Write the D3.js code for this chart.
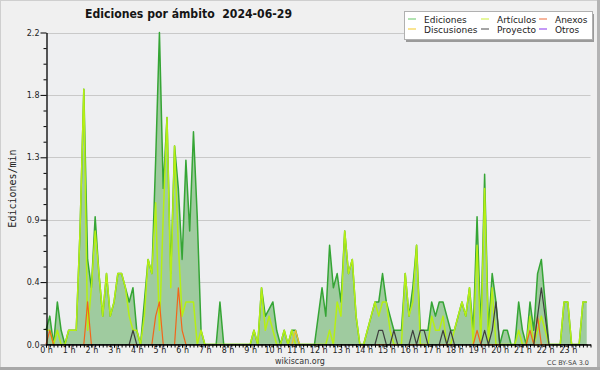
<!DOCTYPE html>
<html>
<head>
<meta charset="utf-8">
<script src="https://cdn.jsdelivr.net/npm/d3@7"></script>
<style>
  html, body { margin: 0; padding: 0; background: #f0f0f0; }
  svg { display: block; }
  text { font-family: "DejaVu Sans", sans-serif; }
</style>
</head>
<body>
<div id="chart"></div>
<script>
// --- Data: edits per minute, one value per 10 minutes (144 values, 00:00 -> 23:50) ---
const stepMinutes = 10;

const ediciones = [
  0.1, 0.2, 0, 0.3, 0.1, 0, 0.1, 0.1, 0.1, 0.8, 1.8, 0.6,
  0.4, 0.9, 0.5, 0.2, 0.5, 0.2, 0.3, 0.5, 0.5, 0.4, 0.3, 0.4,
  0.1, 0, 0.3, 0.6, 0.5, 1.3, 2.2, 1.1, 1.6, 0.5, 1.4, 1.1,
  0.6, 1.3, 0.8, 1.5, 0.9, 0.1, 0, 0, 0, 0, 0.3, 0,
  0, 0, 0, 0, 0, 0, 0, 0.1, 0, 0.4, 0.2, 0.25,
  0.3, 0.1, 0, 0.1, 0, 0.1, 0.1, 0, 0, 0, 0, 0,
  0.2, 0.4, 0.2, 0.7, 0.4, 0.5, 0.3, 0.8, 0.5, 0.6, 0.2, 0,
  0, 0.1, 0.2, 0.3, 0.3, 0.5, 0.3, 0.2, 0.1, 0.1, 0.1, 0.5,
  0.2, 0.4, 0.7, 0.1, 0.1, 0.1, 0.3, 0.2, 0.3, 0.3, 0.2, 0.1,
  0.1, 0.2, 0.3, 0.2, 0.4, 0.1, 0.9, 0.1, 1.2, 0.1, 0.5, 0.3,
  0, 0.1, 0.1, 0, 0, 0.3, 0.1, 0, 0.3, 0.1, 0.5, 0.6,
  0.3, 0, 0, 0, 0, 0.3, 0.3, 0, 0, 0, 0.3, 0.3
];

const articulos = [
  0.1, 0.1, 0, 0.1, 0, 0, 0.1, 0.1, 0.1, 0.8, 1.8, 0.1,
  0.4, 0.8, 0.5, 0.2, 0.5, 0.2, 0.3, 0.5, 0.5, 0.4, 0.2, 0.1,
  0.1, 0, 0.2, 0.6, 0.5, 1.0, 0.1, 0.9, 1.6, 0.4, 1.4, 0.7,
  0.2, 0.3, 0.3, 0.3, 0, 0.1, 0, 0, 0, 0, 0, 0,
  0, 0, 0, 0, 0, 0, 0, 0.1, 0, 0.4, 0.1, 0.2,
  0.1, 0, 0, 0.1, 0, 0.1, 0, 0, 0, 0, 0, 0,
  0, 0, 0, 0.1, 0, 0.3, 0.2, 0.8, 0.5, 0.6, 0.2, 0,
  0, 0.1, 0.2, 0.3, 0.2, 0.3, 0.3, 0.1, 0, 0, 0, 0.5,
  0.2, 0.3, 0.7, 0, 0, 0, 0.2, 0.1, 0.1, 0.2, 0, 0,
  0.1, 0.2, 0.3, 0.2, 0.4, 0, 0.7, 0, 1.1, 0, 0.4, 0,
  0, 0, 0, 0, 0, 0.1, 0, 0, 0.2, 0, 0.1, 0.2,
  0.1, 0, 0, 0, 0, 0.3, 0.3, 0, 0, 0, 0.3, 0.3
];

const anexos = [
  0, 0.1, 0, 0, 0, 0, 0, 0, 0, 0, 0, 0.3,
  0, 0, 0, 0, 0, 0, 0, 0, 0, 0, 0, 0,
  0, 0, 0, 0, 0, 0.2, 0.3, 0, 0, 0, 0, 0.4,
  0.1, 0, 0, 0, 0, 0, 0, 0, 0, 0, 0, 0,
  0, 0, 0, 0, 0, 0, 0, 0, 0, 0, 0, 0,
  0, 0, 0, 0, 0, 0, 0, 0, 0, 0, 0, 0,
  0, 0, 0, 0, 0, 0, 0, 0, 0, 0, 0, 0,
  0, 0, 0, 0, 0, 0, 0, 0, 0, 0, 0, 0,
  0, 0, 0, 0, 0, 0, 0, 0, 0, 0, 0, 0,
  0, 0, 0, 0, 0, 0, 0.1, 0, 0, 0, 0, 0,
  0, 0, 0, 0, 0, 0, 0, 0, 0.1, 0, 0.2, 0,
  0, 0, 0, 0, 0, 0, 0, 0, 0, 0, 0, 0
];

const discusiones = [
  0, 0, 0, 0, 0, 0, 0, 0, 0, 0, 0, 0,
  0, 0, 0, 0, 0, 0, 0, 0, 0, 0, 0, 0,
  0, 0, 0, 0, 0, 0, 0, 0, 0, 0, 0, 0,
  0, 0, 0, 0, 0, 0, 0, 0, 0, 0, 0, 0,
  0, 0, 0, 0, 0, 0, 0, 0, 0, 0, 0, 0,
  0, 0, 0, 0, 0, 0, 0.1, 0, 0, 0, 0, 0,
  0, 0, 0, 0, 0, 0, 0, 0, 0, 0, 0, 0,
  0, 0, 0, 0, 0, 0, 0, 0, 0, 0, 0, 0,
  0, 0, 0, 0, 0, 0, 0, 0, 0, 0, 0, 0,
  0, 0, 0, 0, 0, 0, 0, 0, 0, 0, 0, 0,
  0, 0, 0, 0, 0, 0, 0, 0, 0, 0, 0, 0,
  0, 0, 0, 0, 0, 0, 0, 0, 0, 0, 0, 0
];

const proyecto = [
  0, 0, 0, 0, 0, 0, 0, 0, 0, 0, 0, 0,
  0, 0, 0, 0, 0, 0, 0, 0, 0, 0, 0, 0.1,
  0, 0, 0, 0, 0, 0, 0, 0, 0, 0, 0, 0,
  0, 0, 0, 0, 0, 0, 0, 0, 0, 0, 0, 0,
  0, 0, 0, 0, 0, 0, 0, 0, 0, 0, 0, 0,
  0, 0, 0, 0, 0, 0, 0, 0, 0, 0, 0, 0,
  0, 0, 0, 0, 0, 0, 0, 0, 0, 0, 0, 0,
  0, 0, 0, 0, 0.1, 0.1, 0, 0, 0.1, 0, 0, 0,
  0, 0.1, 0, 0.1, 0.1, 0, 0, 0, 0, 0.1, 0, 0.1,
  0, 0, 0, 0, 0, 0, 0, 0, 0.1, 0, 0.1, 0.3,
  0, 0, 0, 0, 0, 0, 0, 0, 0, 0, 0.2, 0.4,
  0.2, 0, 0, 0, 0, 0, 0, 0, 0, 0, 0, 0
];

// legend order / colours (swatch colour)
const legendNames = ["Ediciones", "Artículos", "Anexos", "Discusiones", "Proyecto", "Otros"];
const legendSwatch = ["#7fd07f", "#d4f25a", "#f0845a", "#f5d34a", "#6a6a6a", "#9d55f0"];

// axis ticks
const yTickValues = [0, 0.44, 0.88, 1.32, 1.76, 2.2];
const yTickLabels = ["0.0", "0.4", "0.9", "1.3", "1.8", "2.2"];
const hourLabels = ["0 h", "1 h", "2 h", "3 h", "4 h", "5 h", "6 h", "7 h", "8 h", "9 h", "10 h", "11 h",
                    "12 h", "13 h", "14 h", "15 h", "16 h", "17 h", "18 h", "19 h", "20 h", "21 h", "22 h", "23 h"];

// --- Layout ---
const W = 600, H = 370;
const plot = { left: 46, right: 590.5, top: 32.5, bottom: 344.5 };

const svg = d3.select("#chart").append("svg")
    .attr("width", W)
    .attr("height", H);

// background + frame
svg.append("rect").attr("width", W).attr("height", H).attr("fill", "#f0f0f0");
svg.append("rect").attr("x", plot.left).attr("y", plot.top)
    .attr("width", plot.right - plot.left).attr("height", plot.bottom - plot.top)
    .attr("fill", "#eeeff1");
svg.append("rect").attr("x", 0).attr("y", 0).attr("width", W).attr("height", 1).attr("fill", "#cfcfcf");
svg.append("rect").attr("x", 0).attr("y", 0).attr("width", 1).attr("height", H).attr("fill", "#cfcfcf");
svg.append("rect").attr("x", W - 3).attr("y", 0).attr("width", 3).attr("height", H).attr("fill", "#b4b4b4");
svg.append("rect").attr("x", 0).attr("y", H - 3).attr("width", W).attr("height", 3).attr("fill", "#a8a8a8");

// scales
const x = d3.scaleLinear().domain([0, 24 * 60]).range([plot.left, plot.right]);
const y = d3.scaleLinear().domain([0, 2.2]).range([plot.bottom, plot.top]);
const tOf = i => i * stepMinutes;

// horizontal grid lines
svg.append("g")
    .selectAll("line")
    .data(yTickValues.slice(1))
    .join("line")
    .attr("x1", plot.left).attr("x2", plot.right)
    .attr("y1", d => Math.round(y(d)) + 0.5).attr("y2", d => Math.round(y(d)) + 0.5)
    .attr("stroke", "#c9c9c9")
    .attr("stroke-width", 1.2);

// --- Series ---
const area = d3.area()
    .x((d, i) => x(tOf(i)))
    .y0(plot.bottom)
    .y1(d => y(d));

const line = d3.line()
    .x((d, i) => x(tOf(i)))
    .y(d => y(d));

svg.append("path")
    .datum(ediciones)
    .attr("d", area)
    .attr("fill", "#9fcb9f");

const lineSeries = [
    { values: ediciones, color: "#35a535", width: 1.5 },
    { values: articulos, color: "#b6ef14", width: 1.5 },
    { values: discusiones, color: "#f2c12a", width: 1.2 },
    { values: anexos, color: "#f2651a", width: 1.2 },
    { values: proyecto, color: "#3e3e3e", width: 1.2 }
];

svg.append("g")
    .selectAll("path")
    .data(lineSeries)
    .join("path")
    .attr("d", d => line(d.values))
    .attr("fill", "none")
    .attr("stroke", d => d.color)
    .attr("stroke-width", d => d.width)
    .attr("stroke-linejoin", "round");

// --- Axes ---
svg.append("g")
    .attr("transform", `translate(${plot.left + 0.5},0)`)
    .call(d3.axisLeft(y)
        .tickValues(yTickValues)
        .tickFormat((d, i) => yTickLabels[i])
        .tickSize(6)
        .tickPadding(1)
        .tickSizeOuter(0));

// minor y ticks every 0.11
svg.append("g")
    .attr("transform", `translate(${plot.left + 0.5},0)`)
    .call(d3.axisLeft(y)
        .tickValues(d3.range(1, 20).filter(k => k % 4 !== 0).map(k => k * 0.11))
        .tickFormat("")
        .tickSize(3)
        .tickSizeOuter(0))
    .select(".domain").remove();

svg.append("g")
    .attr("transform", `translate(0,${plot.bottom})`)
    .call(d3.axisBottom(x)
        .tickValues(hourLabels.map((d, i) => i * 60))
        .tickFormat((d, i) => hourLabels[i])
        .tickSize(3)
        .tickPadding(0)
        .tickSizeOuter(0));

// minor x ticks every 10 minutes
svg.append("g")
    .attr("transform", `translate(0,${plot.bottom})`)
    .call(d3.axisBottom(x)
        .tickValues(d3.range(0, 24 * 60 + 1, stepMinutes))
        .tickFormat("")
        .tickSize(3)
        .tickSizeOuter(0))
    .select(".domain").remove();

svg.selectAll(".tick text")
    .style("font-family", "DejaVu Sans")
    .style("font-size", "8px")
    .attr("fill", "#222");
svg.selectAll(".tick line").attr("stroke", "#000");
svg.selectAll(".domain").attr("stroke", "#000").attr("stroke-width", 1.3);

// --- Titles ---
svg.append("text")
    .attr("x", 85).attr("y", 18)
    .attr("textLength", 207)
    .attr("lengthAdjust", "spacingAndGlyphs")
    .style("font-size", "12px")
    .style("font-weight", "bold")
    .style("white-space", "pre")
    .attr("fill", "#151515")
    .text("Ediciones por ámbito  2024-06-29");

svg.append("text")
    .attr("transform", `translate(12,${(plot.top + plot.bottom) / 2}) rotate(-90)`)
    .attr("text-anchor", "middle")
    .attr("dy", "0.35em")
    .style("font-family", "DejaVu Sans Mono")
    .style("font-size", "10px")
    .attr("fill", "#222")
    .text("Ediciones/min");

svg.append("text")
    .attr("x", 300).attr("y", 364)
    .attr("text-anchor", "middle")
    .style("font-size", "8px")
    .attr("fill", "#333")
    .text("wikiscan.org");

svg.append("text")
    .attr("x", 589).attr("y", 365)
    .attr("text-anchor", "end")
    .style("font-size", "6.5px")
    .attr("fill", "#444")
    .text("CC BY-SA 3.0");

// --- Legend ---
const legend = svg.append("g").attr("transform", "translate(404,11)");
legend.append("rect").attr("x", 2).attr("y", 3).attr("width", 188).attr("height", 28).attr("fill", "#9a9a9a");
legend.append("rect").attr("x", 0.5).attr("y", 0.5).attr("width", 188).attr("height", 28)
    .attr("fill", "#ffffff").attr("stroke", "#b0b0b0");

const colX = [4, 77, 135];
const rowY = [8, 18];
const items = legend.selectAll("g.item")
    .data(legendNames)
    .join("g")
    .attr("class", "item")
    .attr("transform", (d, i) => `translate(${colX[i % 3]},${rowY[Math.floor(i / 3)]})`);

items.append("line")
    .attr("x1", 0).attr("x2", 8)
    .attr("y1", 0).attr("y2", 0)
    .attr("stroke", (d, i) => legendSwatch[i])
    .attr("stroke-width", 1.2);

items.append("text")
    .attr("x", 16).attr("y", 4)
    .style("font-size", "9px")
    .attr("fill", "#222")
    .text(d => d);
</script>
</body>
</html>
